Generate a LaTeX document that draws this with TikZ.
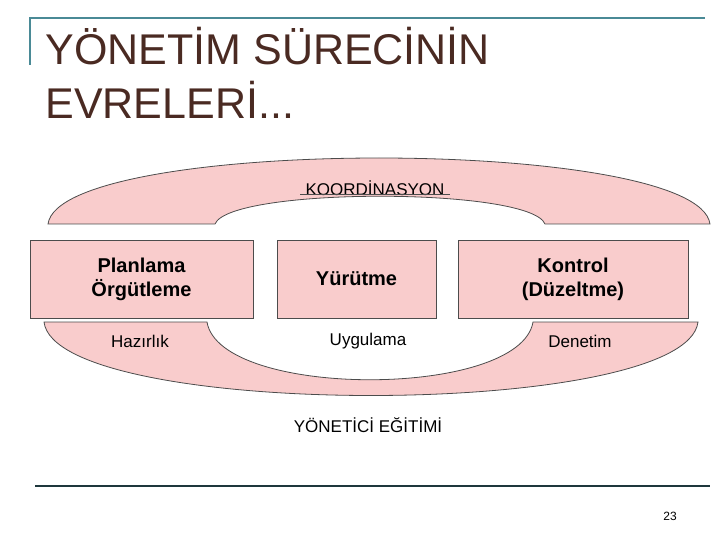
\documentclass[tikz,border=0pt]{standalone}
\usepackage{fontspec}
\setmainfont{Liberation Sans}
\definecolor{pinkf}{HTML}{F9CCCC}
\definecolor{teal}{HTML}{4A8A96}
\definecolor{brownt}{HTML}{4A2A22}
\begin{document}
\begin{tikzpicture}[x=1pt,y=-1pt,
  arch/.style={fill=pinkf,draw=black!70,line width=0.8pt},
  boxs/.style={draw=black!70,fill=pinkf,line width=0.8pt},
  bt/.style={font=\fontsize{20}{24}\selectfont\bfseries,align=center},
  st/.style={font=\fontsize{17}{20}\selectfont}]
\useasboundingbox (0,0) rectangle (720,540);
\draw[teal,line width=2.5pt] (30,65) -- (30,18) -- (705,18);
\node[anchor=base west,text=brownt,font=\fontsize{43}{48}\selectfont] (t1) at (42,65) {YÖNETİM SÜRECİNİN};
\node[anchor=base west,text=brownt,font=\fontsize{43}{48}\selectfont] (t2) at (42,119) {EVRELERİ...};
\draw[arch] (48,224) .. controls (60,136) and (698,136) .. (710,224) -- (545,224) .. controls (530,187) and (230,187) .. (215,224) -- cycle;
\node[st] (koor) at (375,188) {KOORDİNASYON};
\draw[black!70,line width=0.8pt] (300,194) -- (450,194);
\draw[arch] (44,322) .. controls (56,420) and (686,420) .. (698,322) -- (533,322) .. controls (520,399) and (220,399) .. (207,322) -- cycle;
\node[boxs,minimum width=223,minimum height=78] (b1) at (141.5,279) {};
\node[bt] at (b1) {Planlama\\Örgütleme};
\node[boxs,minimum width=159,minimum height=78] (b2) at (356.5,279) {};
\node[bt] at (b2) {Yürütme};
\node[boxs,minimum width=230,minimum height=78] (b3) at (573,279) {};
\node[bt] at (b3) {Kontrol\\(Düzeltme)};
\node[st] (h) at (140,341) {Hazırlık};
\node[st] (u) at (368,341) {Uygulama};
\node[st] (d) at (580,341) {Denetim};
\node[st] (y) at (368,425) {YÖNETİCİ EĞİTİMİ};
\draw[black!60!teal,line width=2.5pt] (35,486) -- (710,486);
\node[font=\fontsize{12}{14}\selectfont] (p) at (670,516) {23};
\end{tikzpicture}
\end{document}
